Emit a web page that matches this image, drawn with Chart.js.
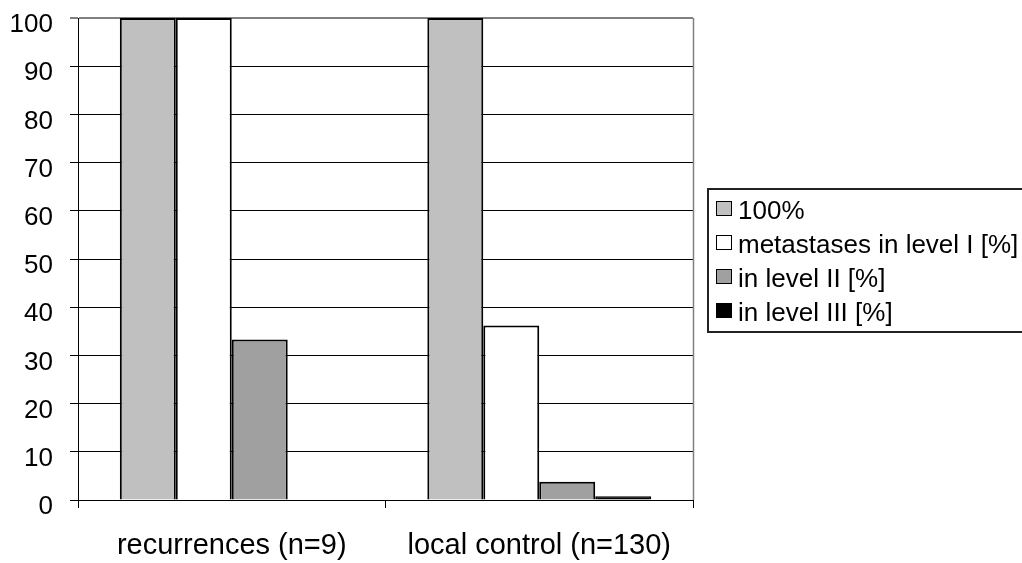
<!DOCTYPE html>
<html>
<head>
<meta charset="utf-8">
<script src="https://cdn.jsdelivr.net/npm/chart.js@4/dist/chart.umd.min.js"></script>
<style>
    html, body { margin: 0; padding: 0; background: #fff; overflow: hidden; }
    #wrap { position: relative; width: 1022px; height: 563px; }
    #myChart { position: absolute; left: 0; top: 0; }
    #legend {
        position: absolute; left: 707px; top: 188px; width: 330px; height: 145px;
        border: 2px solid #222; border-right: none; box-sizing: border-box; overflow: hidden;
        font-family: "Liberation Sans", Arial, sans-serif; font-size: 26px; color: #000;
        padding-top: 3px;
    }
    #legend .item { position: relative; height: 34px; line-height: 34px; padding-left: 29px; white-space: nowrap; }
    #legend .sw {
        position: absolute; left: 7px; top: 8px; width: 16px; height: 15px;
        border: 1px solid #000; box-sizing: border-box;
    }
</style>
</head>
<body>
<div id="wrap">
    <canvas id="myChart" width="1022" height="563"></canvas>
    <div id="legend"></div>
</div>
<script>
// chart data
const categories = ['recurrences (n=9)', 'local control (n=130)'];
const seriesLabels = ['100%', 'metastases in level I [%]', 'in level II [%]', 'in level III [%]'];
const allPatients = [100, 100];
const levelI = [100, 36.2];
const levelII = [33.3, 3.8];
const levelIII = [0, 0.8];
const yMin = 0, yMax = 100, yStep = 10;

const seriesColors = ['#c0c0c0', '#ffffff', '#a0a0a0', '#000000'];

// right border of plot area (gray)
const plotBorder = {
    id: 'plotBorder',
    beforeDatasetsDraw(chart) {
        const { ctx, chartArea } = chart;
        ctx.save();
        ctx.strokeStyle = '#808080';
        ctx.lineWidth = 1.5;
        ctx.beginPath();
        ctx.moveTo(Math.round(chartArea.right) + 0.5, chartArea.top);
        ctx.lineTo(Math.round(chartArea.right) + 0.5, chartArea.bottom);
        ctx.stroke();
        ctx.restore();
    }
};

const seriesData = [allPatients, levelI, levelII, levelIII];

document.addEventListener('DOMContentLoaded', function() {
    const ctx = document.getElementById('myChart').getContext('2d');

    new Chart(ctx, {
        type: 'bar',
        data: {
            labels: categories,
            datasets: seriesLabels.map((label, i) => ({
                label: label,
                data: seriesData[i],
                backgroundColor: seriesColors[i],
                borderColor: '#000',
                borderWidth: 2,
                borderSkipped: 'start',
                categoryPercentage: 0.728,
                barPercentage: 1.0
            }))
        },
        options: {
            responsive: false,
            animation: false,
            layout: { padding: { left: 0, right: 329, top: 18, bottom: 0 } },
            plugins: {
                legend: { display: false },
                tooltip: { enabled: false }
            },
            scales: {
                x: {
                    offset: true,
                    grid: { display: true, drawOnChartArea: false, drawTicks: true, tickLength: 8, color: '#000', lineWidth: 1, offset: true },
                    border: { display: true, color: '#000', width: 1 },
                    ticks: {
                        color: '#000',
                        padding: 21,
                        font: { family: '"Liberation Sans", Arial, sans-serif', size: 29 }
                    },
                    afterFit(scale) { scale.height = 63; }
                },
                y: {
                    min: yMin,
                    max: yMax,
                    grid: {
                        drawTicks: true,
                        tickLength: 8,
                        color: (c) => (c.tick && c.tick.value === yMax) ? '#808080' : '#000',
                        lineWidth: (c) => (c.tick && c.tick.value === yMax) ? 2 : 1
                    },
                    border: { display: true, color: '#000', width: 1 },
                    ticks: {
                        stepSize: yStep,
                        color: '#000',
                        padding: 17,
                        labelOffset: 7,
                        font: { family: '"Liberation Sans", Arial, sans-serif', size: 26 }
                    },
                    afterFit(scale) {
                        scale.width = 78;
                        scale.paddingTop = 0;
                        scale.paddingBottom = 0;
                    }
                }
            }
        },
        plugins: [plotBorder]
    });

    // legend box
    const legendDiv = document.getElementById('legend');
    seriesLabels.forEach((label, i) => {
        const item = document.createElement('div');
        item.className = 'item';
        const sw = document.createElement('span');
        sw.className = 'sw';
        sw.style.background = seriesColors[i];
        item.appendChild(sw);
        item.appendChild(document.createTextNode(label));
        legendDiv.appendChild(item);
    });
});
</script>
</body>
</html>
